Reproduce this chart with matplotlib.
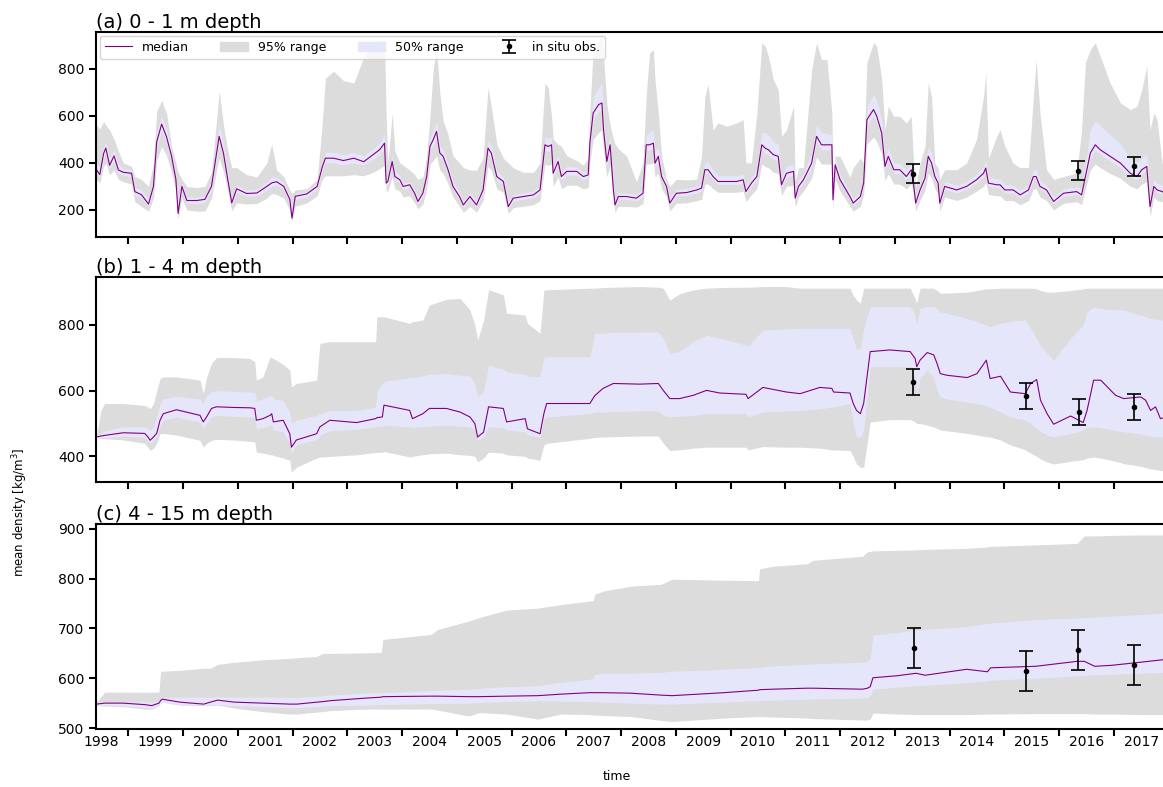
import numpy as np
import matplotlib.pyplot as plt
from matplotlib.lines import Line2D
from matplotlib.patches import Patch

# ----------------------------------------
# Ensemble statistics of mean snow/firn density (decimal years)
# ----------------------------------------
a_year = [1998.42, 1998.48, 1998.55, 1998.59, 1998.66, 1998.74, 1998.82, 1998.91, 1999.06, 1999.12,
          1999.24, 1999.37, 1999.46, 1999.52, 1999.61, 1999.70, 1999.79, 1999.87, 1999.91, 1999.98,
          2000.07, 2000.25, 2000.40, 2000.52, 2000.62, 2000.66, 2000.74, 2000.81, 2000.89, 2000.98,
          2001.16, 2001.35, 2001.53, 2001.62, 2001.71, 2001.84, 2001.95, 2001.99, 2002.05, 2002.26,
          2002.45, 2002.54, 2002.60, 2002.75, 2002.93, 2003.12, 2003.30, 2003.47, 2003.59, 2003.68,
          2003.71, 2003.74, 2003.82, 2003.87, 2003.96, 2004.02, 2004.14, 2004.23, 2004.29, 2004.38,
          2004.45, 2004.51, 2004.57, 2004.63, 2004.69, 2004.75, 2004.84, 2004.93, 2005.05, 2005.12,
          2005.24, 2005.36, 2005.48, 2005.57, 2005.63, 2005.73, 2005.85, 2005.94, 2006.03, 2006.21,
          2006.40, 2006.52, 2006.61, 2006.67, 2006.73, 2006.76, 2006.85, 2006.91, 2007.01, 2007.19,
          2007.31, 2007.40, 2007.43, 2007.49, 2007.59, 2007.65, 2007.68, 2007.74, 2007.80, 2007.86,
          2007.89, 2007.95, 2008.10, 2008.28, 2008.40, 2008.46, 2008.52, 2008.59, 2008.62, 2008.68,
          2008.74, 2008.83, 2008.89, 2009.01, 2009.20, 2009.38, 2009.47, 2009.53, 2009.59, 2009.68,
          2009.77, 2009.93, 2010.11, 2010.23, 2010.28, 2010.38, 2010.48, 2010.57, 2010.63, 2010.69,
          2010.78, 2010.87, 2010.93, 2011.02, 2011.15, 2011.18, 2011.24, 2011.33, 2011.48, 2011.57,
          2011.66, 2011.76, 2011.85, 2011.87, 2011.91, 2012.00, 2012.18, 2012.24, 2012.37, 2012.43,
          2012.49, 2012.61, 2012.67, 2012.76, 2012.82, 2012.88, 2012.98, 2013.09, 2013.21, 2013.30,
          2013.34, 2013.38, 2013.46, 2013.55, 2013.61, 2013.67, 2013.73, 2013.79, 2013.82, 2013.91,
          2014.13, 2014.31, 2014.49, 2014.62, 2014.66, 2014.71, 2014.86, 2014.92, 2015.01, 2015.16,
          2015.29, 2015.44, 2015.53, 2015.58, 2015.65, 2015.77, 2015.90, 2016.08, 2016.32, 2016.41,
          2016.48, 2016.57, 2016.66, 2016.75, 2016.93, 2017.12, 2017.30, 2017.42, 2017.51, 2017.60,
          2017.66, 2017.73, 2017.79, 2017.88, 2017.96]
a_median = [371, 350, 440, 463, 390, 430, 370, 360, 356, 278,
            265, 225, 300, 490, 565, 510, 430, 330, 185, 300,
            240, 240, 245, 300, 450, 513, 440, 340, 230, 290,
            270, 272, 300, 315, 320, 300, 245, 165, 258, 268,
            300, 380, 420, 420, 410, 420, 405, 435, 456, 484,
            314, 321, 406, 342, 328, 300, 307, 271, 236, 271,
            342, 470, 499, 534, 442, 428, 371, 300, 257, 221,
            257, 221, 285, 463, 442, 342, 321, 214, 250, 257,
            264, 285, 477, 470, 477, 356, 406, 342, 364, 364,
            342, 349, 484, 612, 648, 655, 541, 406, 477, 285,
            221, 257, 257, 250, 271, 477, 477, 484, 399, 428,
            342, 300, 229, 271, 274, 285, 293, 371, 371, 342,
            321, 321, 321, 328, 278, 314, 342, 477, 463, 456,
            435, 428, 307, 356, 364, 250, 300, 328, 399, 513,
            477, 477, 477, 243, 392, 328, 257, 229, 257, 314,
            584, 627, 598, 527, 385, 428, 371, 371, 342, 371,
            314, 229, 285, 335, 428, 399, 342, 314, 229, 300,
            285, 300, 328, 356, 378, 314, 307, 307, 285, 285,
            264, 285, 342, 342, 300, 285, 236, 271, 278, 264,
            342, 442, 477, 456, 428, 399, 356, 342, 371, 385,
            214, 300, 285, 278, 270]
a_lo95 = [330, 315, 385, 400, 350, 370, 330, 320, 310, 235,
          215, 195, 250, 410, 470, 430, 360, 280, 160, 250,
          200, 195, 195, 250, 380, 420, 360, 290, 195, 230,
          225, 228, 250, 270, 265, 250, 200, 150, 215, 230,
          260, 330, 345, 345, 345, 350, 345, 360, 375, 390,
          280, 280, 340, 290, 280, 255, 260, 230, 205, 225,
          290, 395, 410, 430, 370, 355, 310, 255, 215, 190,
          215, 190, 240, 385, 370, 290, 275, 185, 210, 215,
          222, 240, 395, 390, 395, 300, 340, 290, 305, 305,
          290, 295, 400, 500, 530, 540, 450, 340, 390, 240,
          190, 215, 215, 212, 228, 395, 395, 400, 340, 355,
          290, 255, 195, 228, 230, 240, 245, 310, 310, 290,
          275, 275, 275, 280, 235, 265, 290, 395, 385, 380,
          360, 355, 260, 300, 305, 212, 255, 280, 335, 425,
          395, 395, 395, 205, 330, 280, 215, 195, 215, 265,
          480, 510, 490, 435, 325, 355, 310, 310, 290, 310,
          265, 195, 240, 285, 355, 335, 290, 265, 195, 255,
          240, 255, 280, 300, 318, 265, 260, 260, 240, 240,
          222, 240, 290, 290, 255, 240, 200, 228, 235, 222,
          290, 370, 395, 380, 355, 335, 300, 290, 310, 320,
          170, 255, 240, 235, 228]
a_lo50 = [355, 338, 420, 445, 375, 410, 355, 348, 340, 265,
          250, 212, 285, 465, 540, 485, 410, 315, 175, 285,
          228, 228, 232, 285, 430, 490, 420, 325, 218, 275,
          258, 260, 285, 300, 305, 288, 232, 160, 245, 255,
          288, 365, 400, 400, 392, 400, 390, 415, 435, 460,
          300, 305, 385, 325, 315, 288, 295, 260, 225, 258,
          325, 450, 475, 505, 420, 410, 355, 288, 245, 210,
          245, 210, 270, 440, 420, 325, 308, 205, 238, 245,
          252, 272, 455, 448, 455, 340, 388, 328, 348, 348,
          328, 335, 460, 585, 620, 625, 515, 388, 455, 272,
          210, 245, 245, 238, 258, 455, 455, 460, 380, 408,
          328, 288, 218, 258, 262, 272, 280, 355, 355, 328,
          308, 308, 308, 315, 265, 300, 328, 455, 440, 435,
          415, 408, 295, 340, 348, 238, 288, 315, 380, 490,
          455, 455, 455, 230, 375, 315, 245, 218, 245, 300,
          560, 600, 570, 505, 368, 408, 355, 355, 328, 355,
          300, 218, 272, 320, 408, 380, 328, 300, 218, 288,
          272, 288, 315, 340, 360, 300, 295, 295, 272, 272,
          252, 272, 328, 328, 288, 272, 225, 258, 265, 252,
          328, 420, 455, 435, 408, 380, 340, 328, 355, 368,
          205, 288, 272, 265, 258]
a_hi50 = [400, 380, 470, 490, 420, 455, 395, 375, 370, 295,
          285, 245, 330, 530, 600, 545, 455, 350, 240, 315,
          255, 255, 260, 320, 490, 560, 480, 365, 250, 305,
          285, 288, 318, 340, 340, 315, 260, 200, 270, 280,
          315, 400, 445, 445, 435, 445, 430, 460, 485, 520,
          340, 345, 430, 365, 345, 315, 320, 285, 255, 290,
          365, 500, 540, 575, 475, 455, 395, 320, 275, 240,
          272, 240, 305, 495, 475, 365, 340, 235, 265, 272,
          280, 305, 510, 505, 510, 380, 430, 362, 385, 382,
          360, 370, 520, 680, 720, 740, 600, 440, 515, 305,
          240, 272, 272, 265, 290, 520, 530, 540, 450, 465,
          365, 318, 250, 288, 290, 302, 315, 400, 405, 370,
          345, 345, 345, 352, 300, 338, 370, 530, 530, 520,
          490, 480, 340, 385, 395, 275, 325, 355, 440, 560,
          530, 525, 520, 280, 420, 350, 275, 250, 275, 340,
          640, 690, 665, 580, 420, 465, 400, 400, 370, 400,
          340, 255, 305, 365, 470, 440, 370, 340, 255, 320,
          305, 320, 352, 385, 410, 340, 332, 332, 308, 305,
          282, 305, 370, 375, 325, 305, 255, 290, 298, 290,
          400, 540, 580, 560, 520, 480, 420, 400, 420, 440,
          250, 330, 315, 305, 295]
a_hi95 = [560, 545, 575, 560, 540, 500, 450, 400, 385, 342,
          330, 300, 400, 620, 665, 610, 470, 400, 360, 330,
          300, 295, 300, 360, 600, 705, 560, 460, 380, 380,
          350, 340, 400, 480, 370, 340, 285, 270, 285, 290,
          330, 560, 760, 790, 750, 740, 850, 900, 920, 920,
          600, 400, 610, 450, 400, 390, 370, 350, 330, 340,
          430, 600, 800, 890, 700, 580, 520, 430, 400, 380,
          370, 370, 420, 720, 640, 480, 420, 400, 380, 360,
          360, 400, 740, 720, 600, 500, 480, 470, 430, 410,
          390, 420, 620, 880, 920, 950, 850, 650, 560, 500,
          480, 460, 430, 320, 400, 690, 868, 882, 755, 612,
          430, 330, 300, 330, 328, 330, 428, 683, 733, 541,
          570, 556, 570, 584, 400, 400, 612, 911, 897, 854,
          755, 712, 513, 541, 641, 320, 380, 380, 797, 911,
          840, 840, 612, 320, 430, 428, 340, 380, 420, 400,
          826, 911, 897, 755, 541, 641, 598, 598, 570, 598,
          400, 300, 400, 470, 740, 683, 400, 380, 330, 371,
          371, 399, 499, 683, 783, 420, 513, 541, 470, 399,
          380, 380, 683, 840, 612, 371, 330, 342, 356, 541,
          826, 882, 911, 854, 740, 655, 627, 641, 712, 811,
          541, 612, 584, 400, 380]

b_year = [1998.42, 1998.50, 1998.57, 1998.91, 1999.30, 1999.36, 1999.40, 1999.46, 1999.52, 1999.58,
          1999.64, 1999.88, 2000.31, 2000.37, 2000.43, 2000.52, 2000.61, 2000.92, 2001.22, 2001.31,
          2001.34, 2001.46, 2001.59, 2001.62, 2001.65, 2001.83, 2001.95, 2001.98, 2002.07, 2002.44,
          2002.50, 2002.68, 2003.17, 2003.52, 2003.54, 2003.64, 2003.67, 2004.14, 2004.19, 2004.38,
          2004.50, 2004.81, 2005.06, 2005.24, 2005.33, 2005.38, 2005.49, 2005.58, 2005.85, 2005.91,
          2006.25, 2006.29, 2006.52, 2006.59, 2006.64, 2007.43, 2007.52, 2007.67, 2007.86, 2008.34,
          2008.68, 2008.77, 2008.89, 2009.07, 2009.32, 2009.56, 2009.80, 2010.28, 2010.32, 2010.59,
          2011.02, 2011.27, 2011.63, 2011.85, 2011.88, 2012.18, 2012.24, 2012.30, 2012.37, 2012.43,
          2012.55, 2012.91, 2013.28, 2013.37, 2013.40, 2013.46, 2013.59, 2013.71, 2013.77, 2013.83,
          2013.95, 2014.32, 2014.50, 2014.67, 2014.74, 2014.93, 2015.11, 2015.38, 2015.48, 2015.59,
          2015.66, 2015.78, 2015.90, 2016.21, 2016.44, 2016.51, 2016.63, 2016.76, 2017.03, 2017.18,
          2017.49, 2017.58, 2017.67, 2017.76, 2017.85, 2017.96]
b_median = [459, 462, 464, 472, 470, 459, 449, 459, 470, 510,
            530, 542, 525, 505, 520, 546, 551, 549, 548, 546,
            510, 515, 525, 530, 505, 510, 469, 428, 450, 469,
            490, 510, 503, 515, 518, 520, 556, 540, 515, 530,
            546, 546, 535, 520, 500, 459, 474, 551, 546, 505,
            515, 484, 469, 530, 561, 561, 585, 607, 622, 620,
            622, 601, 576, 576, 586, 601, 593, 589, 576, 610,
            596, 591, 610, 607, 596, 593, 561, 540, 530, 561,
            719, 724, 719, 698, 673, 693, 716, 709, 683, 652,
            647, 640, 652, 693, 637, 644, 596, 591, 622, 634,
            571, 530, 498, 523, 503, 540, 632, 632, 586, 576,
            581, 571, 540, 551, 515, 520]
b_lo95 = [458, 455, 454, 450, 440, 428, 418, 425, 440, 469,
          470, 465, 449, 428, 440, 449, 452, 450, 446, 444,
          413, 410, 405, 405, 403, 395, 388, 352, 367, 395,
          398, 400, 405, 412, 412, 413, 415, 398, 400, 405,
          408, 410, 405, 403, 400, 383, 395, 413, 410, 405,
          400, 395, 388, 435, 440, 455, 458, 459, 460, 462,
          462, 440, 418, 420, 425, 428, 428, 428, 420, 430,
          428, 428, 425, 420, 420, 418, 400, 377, 367, 367,
          505, 512, 512, 505, 500, 500, 495, 490, 485, 480,
          478, 470, 465, 460, 459, 450, 435, 420, 410, 400,
          392, 383, 377, 385, 390, 395, 398, 395, 385, 378,
          370, 366, 362, 360, 357, 357]
b_lo50 = [458, 458, 457, 462, 458, 448, 440, 450, 460, 495,
          510, 520, 505, 485, 500, 520, 525, 522, 520, 518,
          485, 488, 495, 495, 480, 475, 440, 410, 435, 452,
          465, 478, 482, 490, 492, 492, 495, 490, 488, 490,
          492, 495, 492, 490, 480, 449, 460, 490, 488, 480,
          475, 465, 459, 515, 520, 530, 535, 535, 537, 538,
          538, 525, 520, 522, 525, 530, 530, 530, 520, 535,
          538, 540, 545, 550, 550, 561, 500, 459, 459, 480,
          673, 673, 673, 640, 581, 640, 663, 640, 600, 581,
          575, 565, 561, 555, 550, 535, 520, 510, 500, 485,
          475, 465, 459, 470, 480, 488, 490, 488, 478, 475,
          468, 465, 462, 460, 459, 459]
b_hi50 = [460, 470, 478, 490, 490, 485, 480, 490, 520, 560,
          575, 583, 575, 560, 585, 598, 600, 598, 596, 594,
          570, 575, 585, 585, 575, 570, 535, 500, 510, 525,
          530, 540, 540, 550, 600, 622, 628, 640, 640, 645,
          650, 652, 647, 645, 620, 581, 600, 678, 665, 657,
          650, 645, 642, 700, 703, 703, 775, 775, 778, 779,
          779, 760, 713, 720, 750, 769, 760, 739, 735, 785,
          788, 790, 790, 790, 790, 790, 760, 724, 730, 790,
          856, 856, 856, 830, 805, 850, 856, 856, 850, 840,
          836, 820, 810, 800, 795, 805, 812, 815, 790, 760,
          735, 715, 693, 760, 800, 840, 856, 850, 846, 846,
          830, 825, 820, 818, 815, 815]
b_hi95 = [461, 540, 561, 561, 555, 550, 545, 560, 600, 637,
          642, 642, 632, 591, 640, 683, 701, 701, 698, 688,
          632, 642, 703, 700, 698, 680, 663, 612, 622, 632,
          744, 749, 749, 749, 825, 825, 825, 805, 810, 815,
          861, 878, 881, 846, 800, 754, 815, 907, 892, 836,
          830, 805, 775, 905, 907, 912, 912, 914, 915, 917,
          915, 912, 876, 895, 907, 912, 914, 915, 915, 917,
          917, 912, 912, 912, 912, 912, 890, 876, 866, 912,
          912, 912, 912, 880, 866, 912, 912, 912, 905, 897,
          897, 900, 905, 910, 910, 912, 912, 912, 912, 910,
          905, 900, 900, 905, 910, 912, 912, 912, 912, 912,
          912, 912, 912, 912, 912, 912]

c_year = [1998.42, 1998.57, 1998.90, 1999.30, 1999.43, 1999.56, 1999.59, 1999.62, 1999.94, 2000.38,
          2000.50, 2000.63, 2000.94, 2001.45, 2001.95, 2002.08, 2002.45, 2002.55, 2002.70, 2003.33,
          2003.62, 2003.65, 2004.53, 2004.65, 2005.22, 2005.41, 2005.91, 2006.48, 2006.90, 2007.42,
          2007.49, 2007.52, 2007.67, 2008.17, 2008.74, 2008.93, 2009.88, 2010.51, 2010.53, 2010.77,
          2011.40, 2011.50, 2012.41, 2012.50, 2012.55, 2012.60, 2013.04, 2013.39, 2013.55, 2014.31,
          2014.69, 2014.75, 2015.57, 2016.33, 2016.46, 2016.65, 2016.96, 2017.47, 2017.96]
c_median = [548, 550, 550, 547, 545, 550, 555, 558, 552, 548,
            552, 556, 552, 550, 548, 548, 552, 553, 555, 560,
            562, 563, 564, 564, 563, 563, 564, 565, 568, 571,
            571, 571, 571, 570, 566, 565, 571, 576, 577, 578,
            580, 580, 578, 580, 583, 601, 605, 610, 606, 618,
            613, 621, 624, 634, 634, 624, 626, 632, 638]
c_lo95 = [545, 544, 543, 538, 538, 545, 550, 552, 546, 545,
          545, 546, 540, 533, 528, 528, 532, 533, 535, 538,
          538, 538, 538, 536, 524, 531, 528, 518, 528, 527,
          526, 526, 525, 523, 515, 513, 520, 523, 523, 522,
          520, 519, 516, 516, 518, 530, 528, 527, 527, 527,
          528, 528, 529, 529, 529, 528, 528, 527, 527]
c_lo50 = [545, 546, 545, 541, 540, 546, 550, 552, 547, 546,
          546, 547, 545, 543, 541, 541, 543, 544, 545, 546,
          547, 547, 549, 549, 550, 551, 553, 555, 554, 553,
          553, 553, 552, 550, 548, 548, 552, 555, 555, 556,
          558, 558, 560, 561, 565, 578, 582, 585, 586, 591,
          595, 596, 600, 605, 606, 607, 608, 610, 612]
c_hi50 = [552, 553, 553, 553, 552, 556, 562, 562, 562, 562,
          562, 563, 562, 562, 562, 562, 564, 565, 566, 570,
          571, 571, 575, 576, 578, 580, 583, 585, 592, 598,
          600, 608, 610, 610, 612, 614, 618, 622, 622, 625,
          628, 629, 632, 635, 640, 687, 692, 697, 698, 704,
          710, 711, 718, 721, 722, 723, 725, 728, 731]
c_hi95 = [552, 572, 572, 572, 572, 572, 614, 614, 616, 620,
          620, 628, 632, 637, 640, 641, 644, 650, 650, 651,
          652, 678, 688, 698, 715, 722, 737, 741, 748, 755,
          756, 769, 775, 785, 789, 799, 797, 796, 820, 825,
          830, 837, 845, 854, 855, 856, 857, 858, 859, 861,
          864, 865, 868, 871, 886, 886, 887, 888, 888]

# in situ observations (mean and uncertainty)
obs_a_year = [2013.34, 2016.35, 2017.36]
obs_a = [354, 366, 385]
obs_b_year = [2013.34, 2015.40, 2016.36, 2017.37]
obs_b = [626, 583, 535, 551]
obs_c_year = [2013.35, 2015.39, 2016.35, 2017.36]
obs_c = [661, 614, 656, 627]
obs_err = 40

years = list(range(1998, 2018))

col_med = '#800080'
col_95 = '#dcdcdc'
col_50 = '#e6e6fa'


# ----------------------------------------
# Draw one depth interval
# ----------------------------------------
def draw_panel(ax, year, med, lo95, lo50, hi50, hi95, obs_year, obs, title, ylim, yticks, xlabels):
    ax.fill_between(year, lo95, hi95, color=col_95, lw=0)
    ax.fill_between(year, lo50, hi50, color=col_50, lw=0)
    ax.plot(year, med, color=col_med, lw=0.8)
    eb = ax.errorbar(obs_year, obs, yerr=obs_err, fmt='.', color='k', ms=6,
                     elinewidth=1.2, capsize=5, capthick=1.2)

    ax.set_xlim(1998.41, 2017.95)
    ax.set_ylim(*ylim)
    ax.set_yticks(yticks)
    ax.set_title(title, loc='left', fontsize=14, pad=3)

    # year ticks at Jan 1, labels centred in each year
    ax.set_xticks(years[1:])
    ax.set_xticklabels([])
    ax.set_xticks([y + 0.5 for y in years], minor=True)
    if xlabels:
        ax.set_xticklabels([str(y) for y in years], minor=True)
    ax.tick_params(axis='x', which='minor', length=0, labelsize=10, pad=4)
    ax.tick_params(axis='both', which='major', length=5, width=1.5, labelsize=10)
    for s in ax.spines.values():
        s.set_linewidth(1.5)
    return eb


fig = plt.figure(figsize=(11.63, 7.87), dpi=100)
ax_a = fig.add_axes([0.0825, 0.6989, 0.92, 0.2605])
ax_b = fig.add_axes([0.0825, 0.3875, 0.92, 0.2605])
ax_c = fig.add_axes([0.0825, 0.0737, 0.92, 0.2605])

eb = draw_panel(ax_a, a_year, a_median, a_lo95, a_lo50, a_hi50, a_hi95, obs_a_year, obs_a,
                '(a) 0 - 1 m depth', (85, 957), [200, 400, 600, 800], False)
draw_panel(ax_b, b_year, b_median, b_lo95, b_lo50, b_hi50, b_hi95, obs_b_year, obs_b,
           '(b) 1 - 4 m depth', (322, 946), [400, 600, 800], False)
draw_panel(ax_c, c_year, c_median, c_lo95, c_lo50, c_hi50, c_hi95, obs_c_year, obs_c,
           '(c) 4 - 15 m depth', (498, 910), [500, 600, 700, 800, 900], True)

handles = [Line2D([], [], color=col_med, lw=0.8), Patch(color=col_95), Patch(color=col_50), eb]
labels = ['median', '95% range', '50% range', 'in situ obs.']
ax_a.legend(handles, labels, loc='upper left', ncol=4, fontsize=9, handlelength=2.2,
            columnspacing=2.5, borderaxespad=0.3, framealpha=0.8)

fig.text(20 / 1163, 1 - 512 / 787, 'mean density [kg/m$^3$]', rotation=90,
         ha='center', va='center', fontsize=8.5)
fig.text(617 / 1163, 1 - 776 / 787, 'time', ha='center', va='center', fontsize=9)

fig.savefig('out.png', dpi=100)
